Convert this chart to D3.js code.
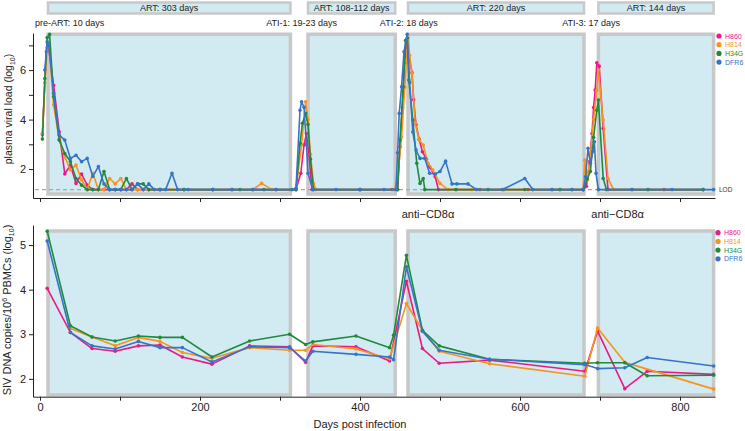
<!DOCTYPE html>
<html>
<head>
<meta charset="utf-8">
<script src="https://cdn.jsdelivr.net/npm/d3@7"></script>
<style>
  body { margin: 0; background: #fff; }
  text { font-family: "Liberation Sans", Arial, sans-serif; }
</style>
</head>
<body>
<svg id="vis"></svg>
<script>
  // ---- data ----
  const animals = ['H860', 'H814', 'H34G', 'DFR6']
  const colors = ['#ea1a84', '#f7931e', '#1f8a3e', '#3674c6']
  const LOD = 1.17

  // ART periods [start day, end day] and labels
  const artPeriods = [[10, 313], [335, 444], [460, 680], [698, 842]]
  const artLabels = ['ART: 303 days', 'ART: 108-112 days', 'ART: 220 days', 'ART: 144 days']
  const atiDays = [327, 461, 689]
  const atiLabels = ['ATI-1: 19-23 days', 'ATI-2: 18 days', 'ATI-3: 17 days']
  const cd8Days = [485, 722]

  // plasma viral load (log10), [day, value]
  const vl_H860 = [[3,3.4],[8,6.74],[10,7.08],[17,5.39],[24,3.51],[31,1.8],[38,2.16],[45,1.42],[52,1.8],[59,1.35],
    [66,1.17],[73,1.17],[80,1.17],[87,1.17],[94,1.17],[101,1.17],[108,1.17],[115,1.4],[122,1.17],[129,1.17],[136,1.17],
    [150,1.17],[180,1.17],[216,1.17],[240,1.17],[266,1.17],[295,1.17],[320,1.17],[326,1.83],[330,2.97],[333,3.44],
    [336,2.6],[340,1.17],[400,1.17],[440,1.17],[447,1.17],[450,2.9],[453,4.5],[456,6.3],[458,7.15],[461,6.6],[465,5.9],
    [467,4.8],[470,3.8],[474,3.2],[478,2.7],[483,2.4],[487,2.09],[494,1.69],[498,1.17],[520,1.17],[550,1.17],[580,1.17],
    [610,1.17],[640,1.17],[665,1.17],[679,1.17],[683,1.3],[687,2.3],[690,3.44],[692,4.49],[694,5.2],[696,6.3],[699,6.16],
    [704,3.64],[710,1.17],[740,1.17],[780,1.17],[829,1.17]]
  const vl_H814 = [[3,3.44],[6,5.49],[9,6.9],[11,7.1],[17,4.59],[24,3.2],[31,2.5],[38,1.96],[45,2.16],[52,1.56],[59,1.17],
    [66,1.83],[73,1.17],[80,1.17],[87,1.62],[94,1.4],[101,1.62],[108,1.17],[115,1.17],[122,1.17],[136,1.17],[150,1.17],
    [180,1.17],[216,1.17],[240,1.17],[266,1.17],[277,1.42],[290,1.17],[320,1.17],[327,2.97],[332,4.72],[335,4.0],
    [338,2.6],[342,1.4],[345,1.17],[400,1.17],[443,1.17],[447,1.62],[452,3.3],[456,5.3],[458,6.4],[460,7.3],[462,6.6],
    [465,5.87],[469,3.85],[474,3.17],[479,2.97],[485,2.23],[491,1.96],[500,1.42],[510,1.17],[540,1.17],[580,1.17],
    [616,1.17],[650,1.17],[679,1.17],[681,2.36],[684,1.56],[688,2.6],[692,4.0],[696,5.19],[698,6.0],[704,3.98],
    [710,1.62],[717,1.17],[760,1.17],[829,1.17]]
  const vl_H34G = [[3,3.21],[6,5.66],[9,7.32],[12,7.45],[17,4.92],[24,3.17],[31,2.63],[38,2.3],[45,1.62],[52,1.35],
    [59,1.17],[66,1.17],[73,1.17],[80,1.9],[87,1.17],[94,1.17],[101,1.17],[108,1.62],[115,1.17],[122,1.4],[129,1.4],
    [136,1.17],[150,1.17],[180,1.17],[216,1.17],[250,1.17],[280,1.17],[320,1.17],[325,3.04],[328,3.85],[332,4.25],
    [335,3.8],[338,2.4],[342,1.17],[400,1.17],[447,1.17],[450,3.17],[454,5.33],[457,7.2],[459,7.3],[461,5.6],[466,3.98],
    [471,2.23],[475,1.42],[479,1.62],[481,1.17],[520,1.17],[560,1.17],[606,1.17],[650,1.17],[679,1.17],[684,1.6],
    [688,1.9],[692,3.28],[696,4.38],[698,4.79],[704,1.62],[708,1.17],[760,1.17],[829,1.17]]
  const vl_DFR6 = [[6,6.0],[9,7.14],[11,7.0],[17,5.06],[24,3.37],[31,3.17],[38,2.43],[45,2.56],[52,2.3],[59,2.43],
    [66,1.7],[73,2.1],[80,1.4],[87,1.17],[94,1.17],[101,1.17],[108,1.17],[115,1.17],[122,1.4],[129,1.17],[136,1.4],
    [143,1.17],[150,1.17],[157,1.17],[165,1.83],[172,1.17],[185,1.17],[216,1.17],[240,1.17],[266,1.17],[295,1.17],
    [315,1.17],[320,1.22],[325,4.38],[327,4.72],[330,4.5],[333,3.0],[335,1.83],[341,1.17],[370,1.17],[400,1.17],
    [430,1.17],[445,1.17],[447,2.66],[449,4.25],[452,5.33],[455,6.74],[459,7.45],[462,5.5],[466,3.5],[470,2.77],
    [475,2.43],[481,2.43],[487,1.83],[494,1.8],[500,1.9],[507,2.32],[515,1.4],[521,1.4],[535,1.4],[546,1.17],
    [578,1.17],[606,1.62],[616,1.17],[640,1.17],[665,1.17],[679,1.17],[682,1.69],[685,2.84],[688,2.23],[691,2.7],
    [693,3.1],[695,1.83],[698,1.17],[740,1.17],[790,1.17],[842,1.17]]

  // SIV DNA copies / 10^6 PBMCs (log10), [day, value]
  const dna_H860 = [[9,4.03],[38,3.04],[65,2.68],[94,2.62],[123,2.74],[150,2.76],[178,2.49],[215,2.33],[262,2.74],
    [312,2.72],[332,2.37],[341,2.74],[395,2.72],[437,2.40],[458,4.19],[478,2.68],[499,2.35],[562,2.42],[681,2.17],
    [697,3.07],[731,1.78],[759,2.17],[842,2.10]]
  const dna_H814 = [[38,3.13],[65,2.94],[94,2.74],[123,2.93],[150,2.84],[178,2.59],[215,2.46],[262,2.70],[312,2.64],
    [332,2.64],[341,2.77],[395,2.67],[437,2.45],[458,3.69],[478,3.09],[499,2.62],[562,2.34],[681,2.06],[697,3.14],
    [731,2.37],[842,1.77]]
  const dna_H34G = [[9,5.31],[38,3.19],[65,2.94],[94,2.85],[123,2.96],[150,2.93],[178,2.93],[215,2.49],[262,2.85],
    [312,3.0],[332,2.77],[341,2.83],[395,2.96],[437,2.70],[442,2.98],[458,4.77],[478,3.09],[499,2.74],[562,2.44],
    [681,2.35],[697,2.36],[731,2.36],[759,2.07],[842,2.08]]
  const dna_DFR6 = [[9,5.09],[38,3.04],[65,2.74],[94,2.67],[123,2.84],[150,2.70],[178,2.70],[215,2.38],[262,2.72],
    [312,2.70],[332,2.40],[341,2.62],[395,2.55],[437,2.49],[442,2.43],[458,4.51],[478,3.07],[499,2.64],[562,2.44],
    [681,2.32],[697,2.23],[731,2.25],[759,2.48],[842,2.29]]

  const vlSeries = [vl_H860, vl_H814, vl_H34G, vl_DFR6]
  const dnaSeries = [dna_H860, dna_H814, dna_H34G, dna_DFR6]

  // ---- layout ----
  const W = 745, H = 431
  const artFill = '#d2eaf2', artStroke = '#c8c8c8'

  const svg = d3.select('#vis').attr('width', W).attr('height', H)

  const x = d3.scaleLinear().domain([-8.75, 843.75]).range([33, 715])
  const yTop = d3.scaleLinear().domain([0.83, 7.5]).range([198, 33])
  const yBot = d3.scaleLinear().domain([1.6, 5.45]).range([396.7, 225])

  // header bars
  artPeriods.forEach(function (p, i) {
    svg.append('rect')
      .attr('x', x(p[0])).attr('y', 2.5)
      .attr('width', x(p[1]) - x(p[0])).attr('height', 11)
      .attr('fill', artFill).attr('stroke', artStroke).attr('stroke-width', 2.5)
    svg.append('text')
      .attr('x', (x(p[0]) + x(p[1])) / 2).attr('y', 11.3)
      .attr('text-anchor', 'middle').attr('font-size', 9).attr('fill', '#222')
      .text(artLabels[i])
  })

  svg.append('text').attr('x', 35).attr('y', 26).attr('font-size', 9).attr('fill', '#222')
    .text('pre-ART: 10 days')
  atiDays.forEach(function (d, i) {
    svg.append('text').attr('x', x(d)).attr('y', 26)
      .attr('text-anchor', 'middle').attr('font-size', 9).attr('fill', '#222')
      .text(atiLabels[i])
  })
  cd8Days.forEach(function (d) {
    svg.append('text').attr('x', x(d)).attr('y', 218)
      .attr('text-anchor', 'middle').attr('font-size', 11).attr('fill', '#222')
      .text('anti\u2212CD8\u03b1')
  })

  // ART shading for a panel
  function panel(y, top, bottom) {
    const g = svg.append('g')
    artPeriods.forEach(function (p) {
      g.append('rect')
        .attr('x', x(p[0])).attr('y', y(top))
        .attr('width', x(p[1]) - x(p[0])).attr('height', y(bottom) - y(top))
        .attr('fill', artFill).attr('stroke', artStroke).attr('stroke-width', 3.5)
    })
    return g
  }

  // top panel
  const gTop = panel(yTop, 7.45, 0.99)
  gTop.append('line')
    .attr('x1', 35).attr('x2', 713).attr('y1', yTop(LOD)).attr('y2', yTop(LOD))
    .attr('stroke', '#a8a8a8').attr('stroke-width', 1.3).attr('stroke-dasharray', '4,3')
  gTop.append('text').attr('x', 719).attr('y', yTop(LOD) + 2.2)
    .attr('font-size', 6.5).attr('fill', '#333').text('LOD')

  // bottom panel
  const gBot = panel(yBot, 5.315, 1.64)

  function drawSeries(g, y, series) {
    const line = d3.line().x(d => x(d[0])).y(d => y(d[1]))
    series.forEach(function (s, i) {
      g.append('path').datum(s)
        .attr('d', line).attr('fill', 'none')
        .attr('stroke', colors[i]).attr('stroke-width', 1.6).attr('stroke-linejoin', 'round')
      g.selectAll(null).data(s).enter().append('circle')
        .attr('cx', d => x(d[0])).attr('cy', d => y(d[1])).attr('r', 1.8)
        .attr('fill', colors[i])
    })
  }
  drawSeries(gTop, yTop, vlSeries)
  drawSeries(gBot, yBot, dnaSeries)

  // legends
  function legend(x0, y0) {
    animals.forEach(function (a, i) {
      svg.append('circle').attr('cx', x0).attr('cy', y0 + i * 8.7).attr('r', 2.6).attr('fill', colors[i])
      svg.append('text').attr('x', x0 + 6).attr('y', y0 + i * 8.7 + 2.5)
        .attr('font-size', 7).attr('fill', colors[i]).text(a)
    })
  }
  legend(719, 36)
  legend(718, 232.7)

  // axes
  const xTicks = d3.range(0, 801, 100)
  svg.append('g').attr('transform', 'translate(0,' + yTop.range()[0] + ')')
    .call(d3.axisBottom(x).tickValues(xTicks).tickFormat('').tickSize(4).tickSizeOuter(0))
  svg.append('g').attr('transform', 'translate(0,' + yBot.range()[0] + ')')
    .call(d3.axisBottom(x).tickValues(xTicks).tickFormat(d => d % 200 === 0 ? d : '')
      .tickSize(4).tickSizeOuter(0).tickPadding(3))
  svg.append('g').attr('transform', 'translate(' + x.range()[0] + ',0)')
    .call(d3.axisLeft(yTop).tickValues([2, 3, 4, 5, 6, 7]).tickFormat(d => d % 2 === 0 ? d : '')
      .tickSize(4).tickSizeOuter(0).tickPadding(3))
  svg.append('g').attr('transform', 'translate(' + x.range()[0] + ',0)')
    .call(d3.axisLeft(yBot).tickValues([2, 3, 4, 5]).tickFormat(d3.format('d'))
      .tickSize(4).tickSizeOuter(0).tickPadding(3))
  svg.selectAll('.tick text').attr('font-size', 11).attr('font-family', '"Liberation Sans", Arial, sans-serif').attr('fill', '#222')
  svg.selectAll('.domain, .tick line').attr('stroke', '#222')

  // axis titles
  svg.append('text').attr('x', (x(0) + x(800)) / 2).attr('y', 428)
    .attr('text-anchor', 'middle').attr('font-size', 11).attr('fill', '#222')
    .text('Days post infection')

  const t1 = svg.append('text').attr('transform', 'translate(12,109) rotate(-90)')
    .attr('text-anchor', 'middle').attr('font-size', 10.5).attr('fill', '#222')
  t1.append('tspan').text('plasma viral load (log')
  t1.append('tspan').attr('dy', 2.5).attr('font-size', 7).text('10')
  t1.append('tspan').attr('dy', -2.5).text(')')

  const t2 = svg.append('text').attr('transform', 'translate(11,310) rotate(-90)')
    .attr('text-anchor', 'middle').attr('font-size', 11).attr('fill', '#222')
  t2.append('tspan').text('SIV DNA copies/10')
  t2.append('tspan').attr('dy', -4).attr('font-size', 7).text('6')
  t2.append('tspan').attr('dy', 4).text(' PBMCs (log')
  t2.append('tspan').attr('dy', 2.5).attr('font-size', 7).text('10')
  t2.append('tspan').attr('dy', -2.5).text(')')
</script>
</body>
</html>
